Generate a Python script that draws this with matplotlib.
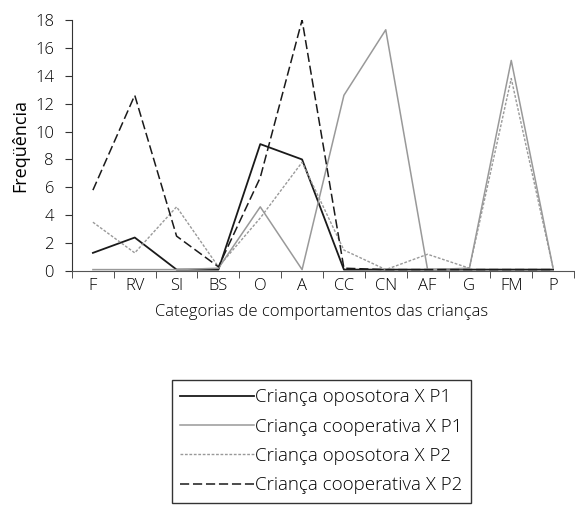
import matplotlib
matplotlib.use("Agg")
import matplotlib.pyplot as plt
import numpy as np

plt.rcParams['font.family'] = ['Open Sans', 'DejaVu Sans']
plt.rcParams['font.weight'] = 'light'

categorias = ['F', 'RV', 'SI', 'BS', 'O', 'A', 'CC', 'CN', 'AF', 'G', 'FM', 'P']
opositora_p1 = [1.3, 2.4, 0.1, 0.1, 9.1, 8.0, 0.1, 0.1, 0.1, 0.1, 0.1, 0.1]
cooperativa_p1 = [0.1, 0.1, 0.1, 0.2, 4.6, 0.1, 12.6, 17.3, 0.1, 0.2, 15.1, 0.2]
opositora_p2 = [3.5, 1.3, 4.6, 0.3, 3.8, 7.8, 1.5, 0.1, 1.2, 0.2, 13.8, 0.2]
cooperativa_p2 = [5.8, 12.6, 2.5, 0.3, 6.7, 18.0, 0.2, 0.1, 0.1, 0.1, 0.1, 0.1]

fig = plt.figure(figsize=(5.75, 5.11), dpi=100)
ax = fig.add_axes([72/575, 1-271/511, 502/575, 251/511])

x = np.arange(len(categorias))
ax.plot(x, opositora_p1, color='#1a1a1a', lw=1.3, label='Criança oposotora X P1')
ax.plot(x, cooperativa_p1, color='#999999', lw=1.1, label='Criança cooperativa X P1')
ax.plot(x, opositora_p2, color='#999999', lw=1.0, ls=(0, (2, 1.2)), label='Criança oposotora X P2')
ax.plot(x, cooperativa_p2, color='#1a1a1a', lw=1.1, ls=(0, (6, 2.5)), label='Criança cooperativa X P2')

ax.set_xlim(-0.5, len(categorias) - 0.5)
ax.set_ylim(0, 18)
ax.set_yticks(range(0, 19, 2))
ax.set_xticks(x)
ax.set_xticklabels(categorias)
ax.set_xticks(np.arange(-0.5, len(categorias)), minor=True)
ax.tick_params(axis='x', which='major', length=0, labelsize=12, pad=5)
ax.tick_params(axis='x', which='minor', length=5, color='#333333', direction='out')
ax.tick_params(axis='y', length=5, labelsize=12, color='#333333', direction='out', pad=8)

for s in ['top', 'right']:
    ax.spines[s].set_visible(False)
ax.spines['left'].set_color('#333333')
ax.spines['bottom'].set_color('#555555')

ax.set_ylabel('Freqüência', fontsize=13, labelpad=4)
fig.text(322/575, 1-312/511, 'Categorias de comportamentos das crianças',
         ha='center', va='center', fontsize=12)

leg = fig.legend(loc='upper left', bbox_to_anchor=(172/575, 1-380/511),
                 fontsize=13.5, handlelength=3.9, handletextpad=0.1,
                 labelspacing=0.6, borderpad=0.45, borderaxespad=0,
                 fancybox=False, framealpha=1)
leg.get_frame().set_edgecolor('#333333')
leg.get_frame().set_linewidth(1.0)

fig.savefig('out.png', dpi=100)
